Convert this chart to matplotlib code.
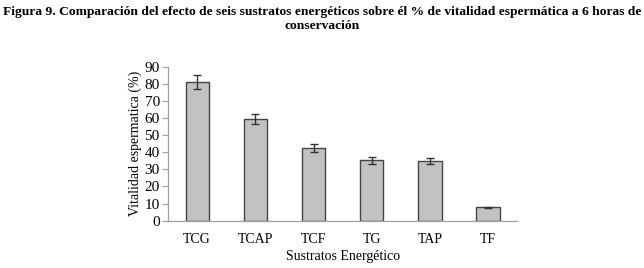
import matplotlib
matplotlib.use("Agg")
import matplotlib.pyplot as plt

categories = ["TCG", "TCAP", "TCF", "TG", "TAP", "TF"]
values = [81, 59.3, 42.3, 35.2, 34.8, 7.8]
errors = [4.0, 3.0, 2.4, 1.8, 1.7, 0.4]
yticks = [0, 10, 20, 30, 40, 50, 60, 70, 80, 90]

plt.rcParams['font.family'] = ['Liberation Serif', 'DejaVu Serif']

fig = plt.figure(figsize=(6.44, 2.68), dpi=100)
ax = fig.add_axes([0.261, 0.1765, 0.542, 0.5745])

x = list(range(len(categories)))
ax.bar(x, values, width=0.4, color="#c2c2c2", edgecolor="#454545", linewidth=1.0,
       yerr=errors, error_kw=dict(ecolor="#333333", elinewidth=1.0, capsize=3, capthick=1.0))

ax.set_xlim(-0.5, len(categories) - 0.5)
ax.set_ylim(0, 90)
ax.set_yticks(yticks)
ax.set_xticks(x)
ax.set_xticklabels(categories)
ax.tick_params(axis='y', length=4, width=0.8, color="#a0a0a0", labelsize=11, pad=2)
ax.tick_params(axis='x', length=0, labelsize=10, pad=9)

for s in ["top", "right"]:
    ax.spines[s].set_visible(False)
for s in ["left", "bottom"]:
    ax.spines[s].set_color("#a0a0a0")
    ax.spines[s].set_linewidth(0.9)

ax.set_ylabel("Vitalidad espermatica (%)", fontsize=10, labelpad=2)
ax.set_xlabel("Sustratos Energético", fontsize=10, labelpad=3)

fig.text(0.5, 0.93, "Figura 9. Comparación del efecto de seis sustratos energéticos sobre él % de vitalidad espermática a 6 horas de\nconservación",
         ha="center", va="center", fontsize=9.7, fontweight="bold", linespacing=1.25)

fig.savefig("out.png", dpi=100)
